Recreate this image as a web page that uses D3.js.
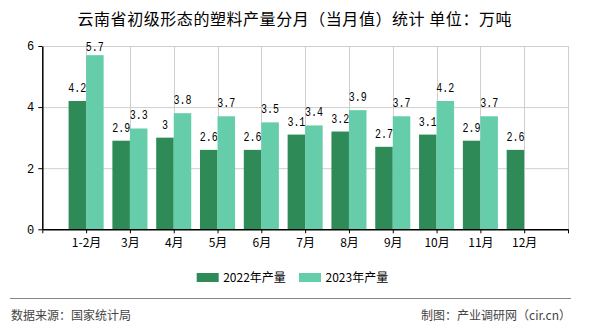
<!DOCTYPE html>
<html><head><meta charset="utf-8">
<script src="https://cdn.jsdelivr.net/npm/d3@7"></script>
<style>
body{margin:0;background:#fff;}
svg{display:block;}
</style></head>
<body><svg id="c" width="590" height="330"></svg>
<script>
const categories = ["1-2月","3月","4月","5月","6月","7月","8月","9月","10月","11月","12月"];
const seriesNames = ["2022年产量","2023年产量"];
const values2022 = [4.2,2.9,3,2.6,2.6,3.1,3.2,2.7,3.1,2.9,2.6];
const values2023 = [5.7,3.3,3.8,3.7,3.5,3.4,3.9,3.7,4.2,3.7,null];
const yTicks = [0,2,4,6];
const colors = ["#2E8B57","#66CDAA"];
const title = "云南省初级形态的塑料产量分月（当月值）统计 单位：万吨";

const svg = d3.select("#c");
const cjk = "'Noto Sans CJK SC','Noto Sans',sans-serif";
const mono = "'Liberation Mono','DejaVu Sans Mono',monospace";

const L = 42.3, R = 568, T = 46, B = 229.3;
const x = d3.scaleLinear().domain([0, categories.length + 1]).range([L, R]);
const y = d3.scaleLinear().domain([0, 6]).range([B, T]);
const step = x(1) - x(0);
const bw = step * 0.4;

// title
svg.append("text").attr("x", 294.5).attr("y", 25).attr("text-anchor","middle")
  .style("font-family", cjk).style("font-size","16px").attr("fill","#000")
  .attr("textLength", 434).text(title);

// gridlines
const g = svg.append("g");
g.selectAll(".hg").data(yTicks.filter(d=>d>0)).enter().append("line")
  .attr("x1", L).attr("x2", R).attr("y1", d=>y(d)+0.5).attr("y2", d=>y(d)+0.5)
  .attr("stroke","#cfcfcf").attr("stroke-width",1);
g.selectAll(".vg").data(d3.range(1, categories.length + 2)).enter().append("line")
  .attr("x1", d=>Math.round(x(d))+0.5).attr("x2", d=>Math.round(x(d))+0.5).attr("y1", T).attr("y2", B)
  .attr("stroke","#cfcfcf").attr("stroke-width",1);

// bars
const series = [values2022, values2023];
series.forEach((vals, s) => {
  const bars = svg.append("g");
  vals.forEach((v, i) => {
    if (v == null) return;
    const cx = x(i + 1);
    const bx = s === 0 ? cx - bw : cx;
    bars.append("rect").attr("x", bx).attr("y", y(v)).attr("width", bw).attr("height", y(0) - y(v))
      .attr("fill", colors[s]);
    bars.append("text").attr("x", bx + bw/2).attr("y", Math.max(y(v) - 9, 51))
      .attr("text-anchor","middle").style("font-family", mono).style("font-size","12px")
      .attr("textLength", String(v).length * 6).attr("lengthAdjust","spacingAndGlyphs")
      .attr("fill","#000").text(v);
  });
});

// axes
const xAxis = d3.axisBottom(x).tickValues(d3.range(0, categories.length + 2))
  .tickFormat(i => categories[i-1] || "").tickSize(4).tickSizeOuter(0);
const xg = svg.append("g").attr("transform", `translate(0,${B})`).call(xAxis);
xg.select(".domain").attr("stroke","#000").attr("stroke-width",1.5);
xg.selectAll(".tick line").attr("stroke","#000");
xg.selectAll("text").style("font-family", cjk).style("font-size","12px").attr("fill","#000").attr("dy","0.9em");

const yAxis = d3.axisLeft(y).tickValues(yTicks).tickFormat(d3.format("d")).tickSize(4).tickSizeOuter(0);
const yg = svg.append("g").attr("transform", `translate(${L},0)`).call(yAxis);
yg.select(".domain").attr("stroke","#000").attr("stroke-width",1.5);
yg.selectAll(".tick line").attr("stroke","#000");
yg.selectAll("text").style("font-family", mono).style("font-size","12px").attr("fill","#000").attr("x",-8);

// legend
const legX = [196.7, 299];
seriesNames.forEach((n, s) => {
  svg.append("rect").attr("x", legX[s]).attr("y", 273).attr("width", 22).attr("height", 9).attr("fill", colors[s]);
  svg.append("text").attr("x", legX[s] + 26.5).attr("y", 281.5)
    .style("font-family", cjk).style("font-size","12px").attr("fill","#000").text(n);
});

// footer
svg.append("line").attr("x1", 10).attr("x2", 571).attr("y1", 298.5).attr("y2", 298.5)
  .attr("stroke","#888").attr("stroke-width",1);
svg.append("text").attr("x", 11).attr("y", 320).style("font-family", cjk).style("font-size","12px")
  .attr("fill","#444").text("数据来源：国家统计局");
svg.append("text").attr("x", 571).attr("y", 320).attr("text-anchor","end").style("font-family", cjk).style("font-size","12px")
  .attr("fill","#444").text("制图：产业调研网（cir.cn）");
</script></body></html>
